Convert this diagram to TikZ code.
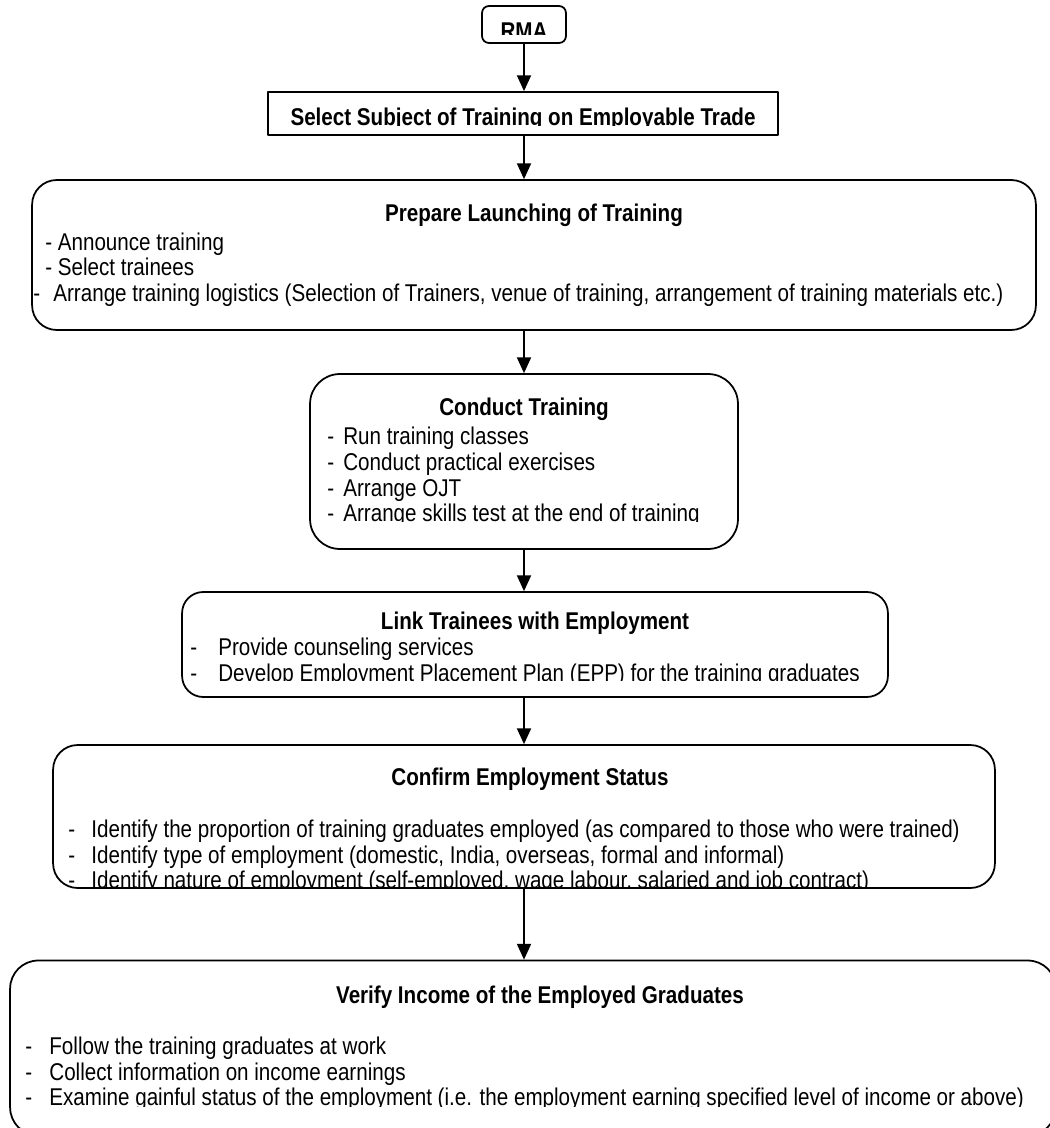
\documentclass[tikz,border=0pt]{standalone}
\usepackage{fontspec}
\setmainfont{Liberation Sans}[FakeStretch=0.85]
\usetikzlibrary{arrows.meta}
\newcommand{\bl}[2]{\makebox[#1][l]{-}#2}

\begin{document}
\begin{tikzpicture}[x=0.02cm,y=-0.02cm,>={Triangle[width=8pt,length=9pt]},font=\fontsize{13.8}{14.6}\selectfont,line join=round,line cap=round,
		box/.style={draw,line width=1pt,inner sep=0pt},
		ttl/.style={font=\fontsize{13.8}{14.6}\selectfont\bfseries,inner sep=0pt},
		lst/.style={align=left,anchor=west,inner sep=0pt}]
	\useasboundingbox (0,0) rectangle (1049,1128);
	% boxes
	\node[box,rounded corners=4pt,minimum width=1.68cm,minimum height=0.74cm] (rma) at (524,24.5) {};
	\node[box,minimum width=10.2cm,minimum height=0.86cm] (sel) at (523,113.5) {};
	\node[box,rounded corners=14pt,minimum width=20.08cm,minimum height=3cm] (prep) at (534,255) {};
	\node[box,rounded corners=17pt,minimum width=8.56cm,minimum height=3.5cm] (cond) at (524,461.5) {};
	\node[box,rounded corners=12pt,minimum width=14.12cm,minimum height=2.1cm] (link) at (535,644.5) {};
	\node[box,rounded corners=14pt,minimum width=18.84cm,minimum height=2.86cm] (conf) at (524,816.5) {};
	\node[box,rounded corners=16pt,minimum width=20.92cm,minimum height=3.5cm] (ver) at (533,1048) {};
	% texts (cut at the bottom as in the original)
	\begin{scope}
		\clip (rma.north west) rectangle (rma.east |- 0,35);
		\node[ttl] (trma) at (524,31) {RMA};
	\end{scope}
	\begin{scope}
		\clip (sel.north west) rectangle (sel.east |- 0,126);
		\node[ttl] (tsel) at (523,119) {Select Subject of Training on Employable Trade};
	\end{scope}
	\node[ttl] (tprep) at (534,215) {Prepare Launching of Training};
	\node[lst] (lprep) at (33,269.5) {\hspace{6.8pt}- Announce training\\ \hspace{6.8pt}- Select trainees\\ \bl{11.4pt}{Arrange training logistics (Selection of Trainers, venue of training, arrangement of training materials etc.)}};
	\begin{scope}
		\clip (cond.north west) rectangle (cond.east |- 0,521);
		\node[ttl] (tcond) at (524,409) {Conduct Training};
		\node[lst] (lcond) at (327,477) {\bl{9.1pt}{Run training classes}\\ \bl{9.1pt}{Conduct practical exercises}\\ \bl{9.1pt}{Arrange OJT}\\ \bl{9.1pt}{Arrange skills test at the end of training}};
	\end{scope}
	\begin{scope}
		\clip (link.north west) rectangle (link.east |- 0,680);
		\node[ttl] (tlink) at (535,623) {Link Trainees with Employment};
		\node[lst] (llink) at (190,662) {\bl{15.9pt}{Provide counseling services}\\ \bl{15.9pt}{Develop Employment Placement Plan (EPP) for the training graduates}};
	\end{scope}
	\begin{scope}
		\clip (conf.north west) rectangle (conf.east |- 0,887);
		\node[ttl] (tconf) at (530,779) {Confirm Employment Status};
		\node[lst] (lconf) at (68,857) {\bl{13.1pt}{Identify the proportion of training graduates employed (as compared to those who were trained)}\\ \bl{13.1pt}{Identify type of employment (domestic, India, overseas, formal and informal)}\\ \bl{13.1pt}{Identify nature of employment (self-employed, wage labour, salaried and job contract)}};
	\end{scope}
	\begin{scope}
		\clip (ver.north west) rectangle (ver.east |- 0,1106);
		\node[ttl] (tver) at (540,997) {Verify Income of the Employed Graduates};
		\node[lst] (lver) at (25,1074) {\bl{13.7pt}{Follow the training graduates at work}\\ \bl{13.7pt}{Collect information on income earnings}\\ \bl{13.7pt}{Examine gainful status of the employment (i.e. the employment earning specified level of income or above)}};
	\end{scope}
	% arrows
	\foreach \a/\b in {rma/sel,sel/prep,prep/cond,cond/link,link/conf,conf/ver}
		\draw[->,line width=1pt] (\a.south -| rma) -- (\b.north -| rma);
\end{tikzpicture}
\end{document}
